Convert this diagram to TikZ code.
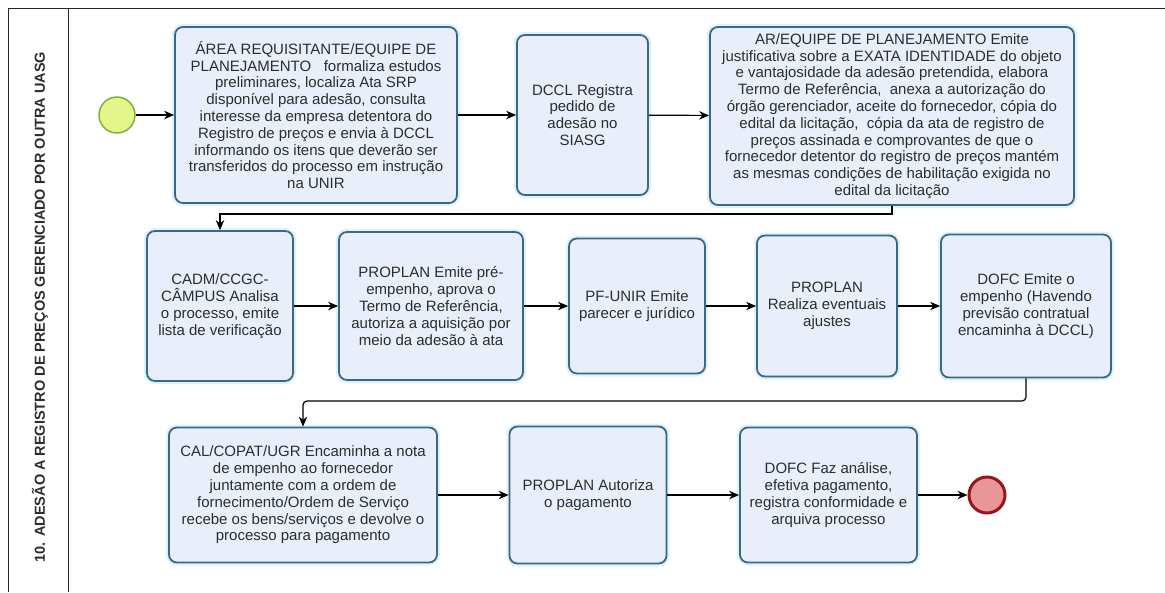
\documentclass[tikz,border=0pt]{standalone}
\usepackage{fontspec}
\setmainfont{Liberation Sans}
\usetikzlibrary{arrows.meta}

\definecolor{taskfill}{RGB}{232,238,250}
\definecolor{taskborder}{RGB}{60,104,134}
\definecolor{taskhalo}{RGB}{222,242,250}
\definecolor{textgray}{RGB}{45,45,45}
\definecolor{startfill}{RGB}{228,245,138}
\definecolor{startborder}{RGB}{128,178,58}
\definecolor{endfill}{RGB}{232,150,152}
\definecolor{endborder}{RGB}{150,22,26}

\newcommand{\tasksize}{\fontsize{15}{16.8}\selectfont}

\tikzset{
  task/.style={draw=taskborder, fill=taskfill, line width=1.8pt,
    rounded corners=8pt, align=center, font=\tasksize, text=textgray,
    inner sep=0pt, anchor=center,
    preaction={draw=taskhalo, line width=6pt}},
  startev/.style={circle, draw=startborder, fill=startfill, line width=1.5pt,
    minimum size=36pt, inner sep=0pt},
  endev/.style={circle, draw=endborder, fill=endfill, line width=3pt,
    minimum size=36pt, inner sep=0pt},
  flow/.style={draw=black, line width=1.2pt, -{Stealth[length=10pt,width=8.5pt]}},
  lane/.style={draw=black!85, line width=1pt}
}

\begin{document}
\begin{tikzpicture}[x=1pt, y=-1pt]
\useasboundingbox (0,0) rectangle (1165,592);
\fill[white] (0,0) rectangle (1165,592);

% pool frame and lane header
\draw[lane] (1165,8) -- (8,8) -- (8,592);
\draw[lane] (68,8) -- (68,592);
\node[rotate=90, font=\fontsize{14.5}{16}\selectfont\bfseries, text=textgray]
  (title) at (40,307) {10. ADESÃO A REGISTRO DE PREÇOS GERENCIADO POR OUTRA UASG};

% first row
\node[startev] (start) at (117,115) {};
\node[task, minimum width=282pt, minimum height=176pt] (b1) at (316,115)
  {ÁREA REQUISITANTE/EQUIPE DE\\
   PLANEJAMENTO \ \ formaliza estudos\\
   preliminares, localiza Ata SRP\\
   disponível para adesão, consulta\\
   interesse da empresa detentora do\\
   Registro de preços e envia à DCCL\\
   informando os itens que deverão ser\\
   transferidos do processo em instrução\\
   na UNIR};
\node[task, minimum width=131pt, minimum height=160pt] (b2) at (582.5,115)
  {DCCL Registra\\ pedido de\\ adesão no\\ SIASG};
\node[task, minimum width=364pt, minimum height=178pt] (b3) at (892,116)
  {AR/EQUIPE DE PLANEJAMENTO Emite\\
   justificativa sobre a EXATA IDENTIDADE do objeto\\
   e vantajosidade da adesão pretendida, elabora\\
   Termo de Referência, \ anexa a autorização do\\
   órgão gerenciador, aceite do fornecedor, cópia do\\
   edital da licitação, \ cópia da ata de registro de\\
   preços assinada e comprovantes de que o\\
   fornecedor detentor do registro de preços mantém\\
   as mesmas condições de habilitação exigida no\\
   edital da licitação};

% second row
\node[task, minimum width=146pt, minimum height=150pt] (b4) at (220,306)
  {CADM/CCGC-\\ CÂMPUS Analisa\\ o processo, emite\\ lista de verificação};
\node[task, minimum width=184pt, minimum height=148pt] (b5) at (431,306)
  {PROPLAN Emite pré-\\ empenho, aprova o\\ Termo de Referência,\\ autoriza a aquisição por\\ meio da adesão à ata};
\node[task, minimum width=136pt, minimum height=135pt] (b6) at (637,306)
  {PF-UNIR Emite\\ parecer e jurídico};
\node[task, minimum width=140pt, minimum height=141pt] (b7) at (827,306)
  {PROPLAN\\ Realiza eventuais\\ ajustes};
\node[task, minimum width=170pt, minimum height=143pt] (b8) at (1026,306)
  {DOFC Emite o\\ empenho (Havendo\\ previsão contratual\\ encaminha à DCCL)};

% third row
\node[task, minimum width=268pt, minimum height=135pt] (b9) at (303,495)
  {CAL/COPAT/UGR Encaminha a nota\\
   de empenho ao fornecedor\\
   juntamente com a ordem de\\
   fornecimento/Ordem de Serviço\\
   recebe os bens/serviços e devolve o\\
   processo para pagamento};
\node[task, minimum width=157pt, minimum height=137pt] (b10) at (588,495)
  {PROPLAN Autoriza\\ o pagamento};
\node[task, minimum width=177pt, minimum height=135pt] (b11) at (828.5,495)
  {DOFC Faz análise,\\ efetiva pagamento,\\ registra conformidade e\\ arquiva processo};
\node[endev] (finish) at (987,495) {};

% sequence flows
\coordinate (turnA) at (0,214);
\coordinate (turnB) at (0,401);
\draw[flow] (start) -- (b1);
\draw[flow] (b1) -- (b2);
\draw[flow] (b2) -- (b3);
\draw[flow] (b3.south) -- (b3.south |- turnA) -| (b4.north);
\draw[flow] (b4) -- (b5);
\draw[flow] (b5) -- (b6);
\draw[flow] (b6) -- (b7);
\draw[flow] (b7) -- (b8);
\draw[flow, rounded corners=4pt] (b8.south) -- (b8.south |- turnB) -| (b9.north);
\draw[flow] (b9) -- (b10);
\draw[flow] (b10) -- (b11);
\draw[flow] (b11) -- (finish);
\end{tikzpicture}
\end{document}
